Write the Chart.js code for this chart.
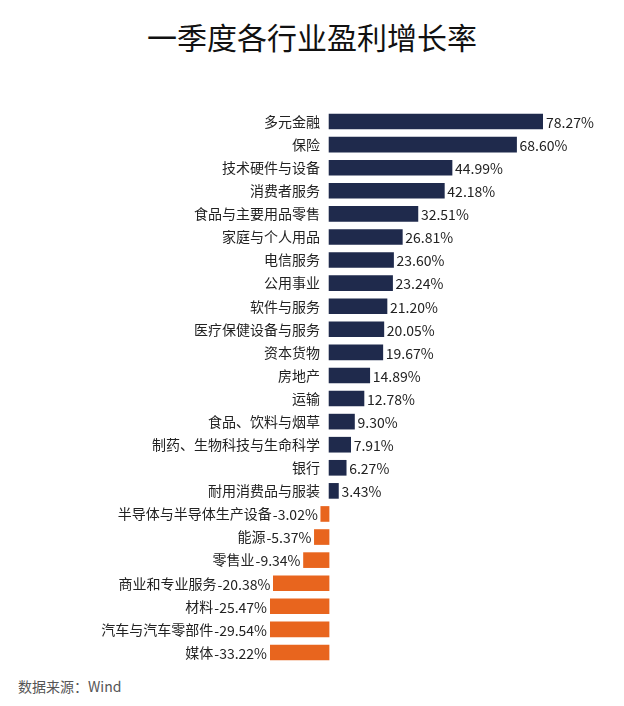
<!DOCTYPE html>
<html>
<head>
<meta charset="utf-8">
<script src="https://cdn.jsdelivr.net/npm/chart.js@4"></script>
<style>
  body { margin: 0; background: #fff; font-family: "Noto Sans CJK SC", sans-serif; }
  #title { position: absolute; top: 14px; width: 624px; text-align: center; font-size: 30px; color: #111; }
  #wrap { position: absolute; left: 0; top: 110px; width: 624px; height: 554px; }
  #source { position: absolute; left: 18px; top: 676px; font-size: 14px; color: #555; }
</style>
</head>
<body>
<div id="title">一季度各行业盈利增长率</div>
<div id="wrap"><canvas id="chart"></canvas></div>
<div id="source">数据来源：Wind</div>
<script>
const industries = ['多元金融', '保险', '技术硬件与设备', '消费者服务', '食品与主要用品零售', '家庭与个人用品',
  '电信服务', '公用事业', '软件与服务', '医疗保健设备与服务', '资本货物', '房地产', '运输', '食品、饮料与烟草',
  '制药、生物科技与生命科学', '银行', '耐用消费品与服装', '半导体与半导体生产设备', '能源', '零售业',
  '商业和专业服务', '材料', '汽车与汽车零部件', '媒体'];
const growth = [78.27, 68.60, 44.99, 42.18, 32.51, 26.81, 23.60, 23.24, 21.20, 20.05, 19.67, 14.89, 12.78,
  9.30, 7.91, 6.27, 3.43, -3.02, -5.37, -9.34, -20.38, -25.47, -29.54, -33.22];

const NAVY = '#1f2a4c';
const ORANGE = '#e8651e';
const FONT = '14px "Noto Sans CJK SC", sans-serif';

// draws category names and value labels beside each bar
const labelPlugin = {
  id: 'labels',
  afterDatasetsDraw(chart) {
    const ctx = chart.ctx;
    const meta = chart.getDatasetMeta(0);
    const area = chart.chartArea;
    ctx.save();
    ctx.font = FONT;
    ctx.fillStyle = '#222';
    ctx.textBaseline = 'middle';
    meta.data.forEach((bar, i) => {
      const v = growth[i];
      const txt = v.toFixed(2) + '%';
      let catX = 320;
      if (v >= 0) {
        ctx.textAlign = 'left';
        ctx.fillText(txt, bar.x + 3, bar.y + 1);
      } else {
        const left = Math.max(bar.x, area.left);
        ctx.textAlign = 'right';
        ctx.fillText(txt, left - 3, bar.y + 1);
        catX = Math.min(catX, left - 3 - ctx.measureText(txt).width - 1);
      }
      ctx.textAlign = 'right';
      ctx.fillText(industries[i], catX, bar.y);
    });
    ctx.restore();
  }
};

new Chart(document.getElementById('chart'), {
  type: 'bar',
  data: {
    labels: industries,
    datasets: [{
      data: growth,
      backgroundColor: growth.map(v => v >= 0 ? NAVY : ORANGE),
      barThickness: 15
    }]
  },
  options: {
    indexAxis: 'y',
    responsive: true,
    maintainAspectRatio: false,
    animation: false,
    layout: { padding: { left: 270, right: 81, top: 0, bottom: 0 } },
    plugins: { legend: { display: false }, tooltip: { enabled: false } },
    scales: {
      x: { min: -21.6, max: 78.27, display: false },
      y: { display: false }
    }
  },
  plugins: [labelPlugin]
});
</script>
</body>
</html>
